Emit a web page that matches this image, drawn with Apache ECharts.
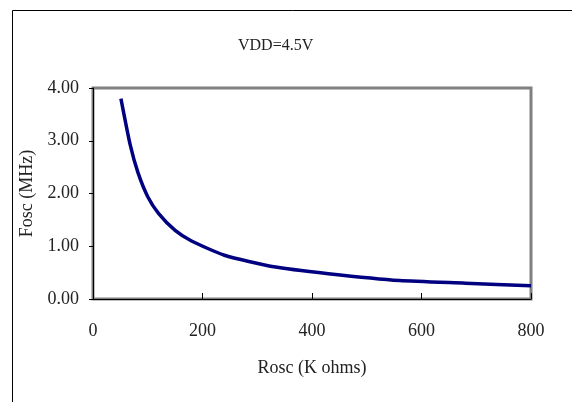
<!DOCTYPE html>
<html>
<head>
<meta charset="utf-8">
<script src="https://cdn.jsdelivr.net/npm/echarts@6/dist/echarts.min.js"></script>
<style>html,body{margin:0;padding:0;background:#fff}#c{width:572px;height:402px}</style>
</head>
<body>
<div id="c"></div>
<script>
const titleText = "VDD=4.5V";
const xName = "Rosc (K ohms)";
const yName = "Fosc (MHz)";
const roscK = [51, 68, 82, 100, 120, 150, 180, 240, 330, 430, 560, 680, 800];
const foscMHz = [3.80, 2.92, 2.40, 1.94, 1.62, 1.30, 1.10, 0.83, 0.61, 0.48, 0.35, 0.30, 0.25];
const xTicks = [0, 200, 400, 600, 800];
const yTicks = [0, 1, 2, 3, 4];

const font = "'Liberation Serif', 'DejaVu Serif', serif";
const chart = echarts.init(document.getElementById('c'), null, {renderer: 'canvas'});
chart.setOption({
  animation: false,
  backgroundColor: '#fff',
  title: {
    text: titleText, left: 233, top: 33,
    textStyle: {fontFamily: font, fontSize: 16, fontWeight: 'normal', color: '#222'}
  },
  graphic: [{
    type: 'rect', silent: true, z: -1,
    shape: {x: 12.5, y: 10.5, width: 700, height: 500},
    style: {fill: 'none', stroke: '#000', lineWidth: 1}
  }],
  grid: {
    left: 93, right: 41, top: 88, bottom: 103,
    show: true, borderColor: '#808080', borderWidth: 3, backgroundColor: '#fff'
  },
  xAxis: {
    type: 'value', min: xTicks[0], max: xTicks[xTicks.length - 1], interval: 200,
    name: xName, nameLocation: 'middle', nameGap: 60,
    nameTextStyle: {fontFamily: font, fontSize: 18, color: '#222'},
    axisLine: {show: true, lineStyle: {color: '#000', width: 1}},
    axisTick: {show: true, inside: true, length: 6, lineStyle: {color: '#000'}},
    axisLabel: {fontFamily: font, fontSize: 18, color: '#222', margin: 23,
      formatter: v => xTicks.includes(v) ? String(v) : ''},
    splitLine: {show: false}
  },
  yAxis: {
    type: 'value', min: yTicks[0], max: yTicks[yTicks.length - 1], interval: 1,
    name: yName, nameLocation: 'middle', nameGap: 55,
    nameTextStyle: {fontFamily: font, fontSize: 18, color: '#222'},
    axisLine: {show: true, lineStyle: {color: '#000', width: 1}},
    axisTick: {show: true, inside: false, length: 4, lineStyle: {color: '#000'}},
    axisLabel: {fontFamily: font, fontSize: 18, color: '#222', margin: 14,
      formatter: v => v.toFixed(2)},
    splitLine: {show: false}
  },
  series: [{
    type: 'line',
    data: roscK.map((x, i) => [x, foscMHz[i]]),
    showSymbol: false, symbol: 'none',
    smooth: 0.2,
    clip: true,
    lineStyle: {color: '#000080', width: 3.5}
  }]
});
</script>
</body>
</html>
